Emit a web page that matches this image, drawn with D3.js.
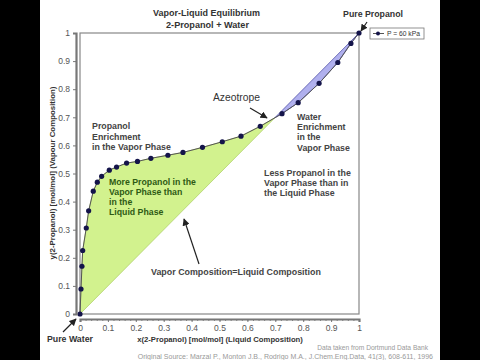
<!DOCTYPE html>
<html><head><meta charset="utf-8">
<script src="https://cdn.jsdelivr.net/npm/d3@7"></script>
<style>body{margin:0;background:#fff}svg{display:block;font-family:"Liberation Sans",Arial,sans-serif}</style>
</head><body>
<svg id="c" width="480" height="360"></svg>
<script>
const xLiquid = [0, 0.0036, 0.007, 0.0096, 0.0225, 0.031, 0.0475, 0.062, 0.0775, 0.105, 0.131, 0.167, 0.206, 0.254, 0.315, 0.369, 0.439, 0.51, 0.577, 0.646, 0.724, 0.782, 0.857, 0.924, 0.971, 1];
const yVapor  = [0, 0.089, 0.170, 0.226, 0.306, 0.367, 0.437, 0.469, 0.49, 0.512, 0.523, 0.537, 0.543, 0.554, 0.565, 0.575, 0.593, 0.613, 0.633, 0.668, 0.713, 0.752, 0.821, 0.895, 0.963, 1];
const tickValues = [0, 0.1, 0.2, 0.3, 0.4, 0.5, 0.6, 0.7, 0.8, 0.9, 1];
const tickLabels = ["0", "0.1", "0.2", "0.3", "0.4", "0.5", "0.6", "0.7", "0.8", "0.9", "1"];
const seriesName = "P = 60 kPa";

const svg = d3.select("#c");
const x = d3.scaleLinear().domain([0, 1]).range([80, 359]);
const y = d3.scaleLinear().domain([0, 1]).range([314, 33]);
const pts = xLiquid.map((v, i) => [v, yVapor[i]]);

svg.append("rect").attr("x", 0).attr("y", 0).attr("width", 40).attr("height", 360).attr("fill", "#000");
svg.append("rect").attr("x", 440).attr("y", 0).attr("width", 40).attr("height", 360).attr("fill", "#000");

let az = null, azIdx = 0;
for (let i = 1; i < pts.length - 1; i++) {
  const d0 = pts[i][1] - pts[i][0], d1 = pts[i + 1][1] - pts[i + 1][0];
  if (d0 > 0 && d1 < 0) {
    const t = d0 / (d0 - d1);
    const xv = pts[i][0] + t * (pts[i + 1][0] - pts[i][0]);
    az = [xv, xv]; azIdx = i; break;
  }
}
const green = pts.slice(0, azIdx + 1).concat([az]);
const blue = [az].concat(pts.slice(azIdx + 1));
const poly = d3.line().x(d => x(d[0])).y(d => y(d[1]));
svg.append("path").attr("d", poly(green) + "Z").attr("fill", "#d2f28e").attr("stroke", "#b0d068").attr("stroke-width", 0.8);
svg.append("path").attr("d", poly(blue) + "Z").attr("fill", "#b0b0ee").attr("stroke", "#5555aa").attr("stroke-width", 0.8);

svg.append("rect").attr("x", 80).attr("y", 33).attr("width", 279).attr("height", 281)
  .attr("fill", "none").attr("stroke", "#888").attr("stroke-width", 1.2);

svg.append("path").attr("d", poly(pts)).attr("fill", "none").attr("stroke", "#555").attr("stroke-width", 1);
svg.selectAll("circle.pt").data(pts).join("circle").attr("class", "pt")
  .attr("cx", d => x(d[0])).attr("cy", d => y(d[1])).attr("r", 2.6).attr("fill", "#14144a");

const yAxis = d3.axisLeft(d3.scaleLinear().domain([0, 1]).range([314, 33]))
  .tickValues(tickValues).tickFormat((d, i) => tickLabels[i]).tickSize(3).tickPadding(3);
const gy = svg.append("g").attr("transform", "translate(76,0)").call(yAxis);
gy.select(".domain").attr("stroke", "#777").attr("stroke-width", 2.2);
gy.selectAll(".tick line").attr("stroke", "#777");
gy.selectAll("text").attr("fill", "#555").attr("font-size", 8.5);

const xMinor = d3.range(0, 1.0001, 0.02);
const gxm = svg.append("g").attr("transform", "translate(0,319)")
  .call(d3.axisBottom(x).tickValues(xMinor).tickFormat("").tickSize(2));
gxm.select(".domain").remove();
gxm.selectAll(".tick line").attr("stroke", "#888");
const gx = svg.append("g").attr("transform", "translate(0,319)")
  .call(d3.axisBottom(x).tickValues(tickValues).tickFormat((d, i) => tickLabels[i]).tickSize(3).tickPadding(3));
gx.select(".domain").attr("stroke", "#777").attr("stroke-width", 2.2);
gx.selectAll(".tick line").attr("stroke", "#777");
gx.selectAll("text").attr("fill", "#555").attr("font-size", 8.5);

svg.append("defs").append("marker").attr("id", "ah").attr("viewBox", "0 0 10 10")
  .attr("refX", 9).attr("refY", 5).attr("markerWidth", 6).attr("markerHeight", 6).attr("orient", "auto")
  .append("path").attr("d", "M0,0 L10,5 L0,10 Z").attr("fill", "#222");
function arrow(x1, y1, x2, y2) {
  svg.append("line").attr("x1", x1).attr("y1", y1).attr("x2", x2).attr("y2", y2)
    .attr("stroke", "#222").attr("stroke-width", 1.2).attr("marker-end", "url(#ah)");
}
function txt(s, tx, ty, o) {
  o = o || {};
  const t = svg.append("text").attr("x", tx).attr("y", ty).text(s)
    .attr("font-size", o.size || 8.5).attr("font-weight", o.bold === false ? "normal" : "bold")
    .attr("fill", o.fill || "#444").attr("text-anchor", o.anchor || "start");
  if (o.width) {
    const len = t.node().getComputedTextLength();
    if (len > 0) t.attr("font-size", (o.size || 8.5) * o.width / len);
  }
  return t;
}
// fit a whole block to the width of its widest line with one font size
function block(lines, tx, ty, dy, widest, o) {
  const probe = svg.append("text").attr("font-size", 10).attr("font-weight", "bold").text(lines[widest]);
  const fs = 10 * o.width / probe.node().getComputedTextLength();
  probe.remove();
  lines.forEach((s, i) => txt(s, tx, ty + i * dy, Object.assign({}, o, {size: fs, width: null})));
}

txt("Vapor-Liquid Equilibrium", 206.5, 16, {anchor: "middle", fill: "#333", width: 107});
txt("2-Propanol + Water", 207.5, 28, {anchor: "middle", fill: "#333", width: 83});
txt("Pure Propanol", 373, 17, {anchor: "middle", fill: "#333", width: 60});
arrow(367, 22, 361, 31);

svg.append("rect").attr("x", 370).attr("y", 28).attr("width", 54).attr("height", 11)
  .attr("fill", "#fff").attr("stroke", "#777").attr("stroke-width", 0.8);
svg.append("line").attr("x1", 373).attr("x2", 384).attr("y1", 33.5).attr("y2", 33.5).attr("stroke", "#555");
svg.append("circle").attr("cx", 378).attr("cy", 33.5).attr("r", 2).attr("fill", "#14144a");
txt(seriesName, 387, 36, {size: 6.5, bold: false, fill: "#333", width: 33});

txt("Azeotrope", 213, 101, {size: 10.5, bold: false, fill: "#333", width: 47});
arrow(250, 108, 267, 118);
block(["Propanol", "Enrichment", "in the Vapor Phase"], 92, 129, 10.5, 2, {width: 79});
block(["Water", "Enrichment", "in the", "Vapor Phase"], 297, 120, 10.2, 3, {width: 53});
block(["Less Propanol in the", "Vapor Phase than in", "the Liquid Phase"], 264, 175.5, 10, 0, {width: 87});
block(["More Propanol in the", "Vapor Phase than", "in the", "Liquid Phase"], 109, 184.5, 10, 0, {width: 87, fill: "#2e5a14"});
txt("Vapor Composition=Liquid Composition", 151, 275, {width: 170});
arrow(199, 264, 184, 219);
txt("Pure Water", 47, 342, {fill: "#333", width: 46});
arrow(63, 332, 76, 319);

txt("x(2-Propanol) [mol/mol] (Liquid Composition)", 220, 342, {anchor: "middle", fill: "#333", width: 166});
txt("y(2-Propanol) [mol/mol] (Vapour Composition)", 0, 0, {anchor: "middle", size: 7.5, fill: "#333", width: 173})
  .attr("transform", "translate(55,173) rotate(-90)");

txt("Data taken from Dortmund Data Bank", 428, 350, {anchor: "end", size: 7, bold: false, fill: "#999", width: 111});
txt("Original Source: Marzal P., Monton J.B., Rodrigo M.A., J.Chem.Eng.Data, 41(3), 608-611, 1996", 433, 359, {anchor: "end", size: 7, bold: false, fill: "#999", width: 296});
</script>
</body></html>
